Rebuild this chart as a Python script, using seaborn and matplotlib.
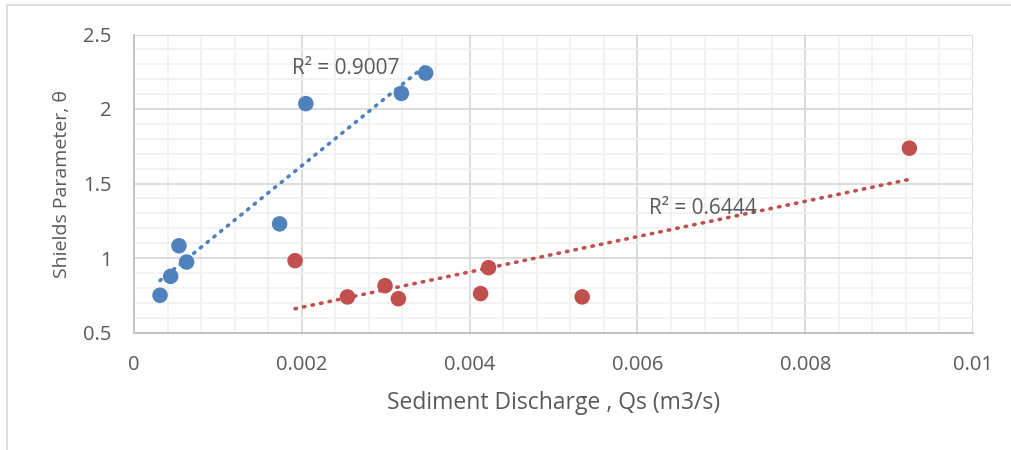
import numpy as np
import pandas as pd
import matplotlib
matplotlib.use("Agg")
import matplotlib.pyplot as plt
from matplotlib.ticker import MultipleLocator, FuncFormatter
import seaborn as sns

# Data
blue_x = [0.000310, 0.000437, 0.000536, 0.000627, 0.001735, 0.002048, 0.003187, 0.003476]
blue_y = [0.750, 0.877, 1.082, 0.973, 1.229, 2.036, 2.105, 2.241]
red_x = [0.001920, 0.002544, 0.002992, 0.003151, 0.004131, 0.004226, 0.005342, 0.009242]
red_y = [0.982, 0.739, 0.814, 0.727, 0.761, 0.935, 0.739, 1.737]
r2_labels = ["R² = 0.9007", "R² = 0.6444"]

blue_c = "#4f81bd"
red_c = "#c0504d"
txt_c = "#595959"

sns.set_style("white")
plt.rcParams["font.family"] = ["Open Sans", "DejaVu Sans"]

df = pd.DataFrame({
    "x": blue_x + red_x,
    "y": blue_y + red_y,
    "series": ["blue"] * len(blue_x) + ["red"] * len(red_x),
})

fig = plt.figure(figsize=(10.12, 4.5), dpi=100)
ax = fig.add_axes([134 / 1012, 1 - 332.5 / 450, (973 - 134) / 1012, (332.5 - 34.5) / 450])

# chart border (left/top visible)
fig.patches.append(plt.Rectangle((7 / 1012, -0.1), 1.2, 1 - 5 / 450 + 0.1,
                                 transform=fig.transFigure, fill=False,
                                 edgecolor="#d9d9d9", lw=1.2, zorder=0))

ax.set_xlim(0, 0.01)
ax.set_ylim(0.5, 2.5)
ax.xaxis.set_major_locator(MultipleLocator(0.002))
ax.xaxis.set_minor_locator(MultipleLocator(0.0004))
ax.yaxis.set_major_locator(MultipleLocator(0.5))
ax.yaxis.set_minor_locator(MultipleLocator(0.1))
ax.grid(which="minor", color="#f0f0f0", lw=1.2, zorder=0)
ax.grid(which="major", color="#d9d9d9", lw=1.3, zorder=0)
ax.set_axisbelow(True)

for s in ["top", "right"]:
    ax.spines[s].set_visible(False)
for s in ["left", "bottom"]:
    ax.spines[s].set_color("#bfbfbf")
    ax.spines[s].set_linewidth(1.3)

ax.tick_params(which="major", direction="out", length=5, width=1.2,
               color="#bfbfbf", labelcolor=txt_c, labelsize=14.5)
ax.tick_params(which="minor", length=0)
ax.tick_params(axis="x", pad=11)
ax.tick_params(axis="y", pad=11)
ax.xaxis.set_major_formatter(FuncFormatter(lambda v, p: f"{v:g}"))
ax.yaxis.set_major_formatter(FuncFormatter(lambda v, p: f"{v:g}"))

# trendlines
for xs, ys, c in [(blue_x, blue_y, blue_c), (red_x, red_y, red_c)]:
    m, b = np.polyfit(xs, ys, 1)
    xx = np.array([min(xs), max(xs)])
    ax.plot(xx, m * xx + b, color=c, lw=2.6, linestyle=(0, (0.4, 2.0)),
            dash_capstyle="round", zorder=2)

sns.scatterplot(data=df, x="x", y="y", hue="series",
                palette={"blue": blue_c, "red": red_c},
                s=125, edgecolor="none", legend=False, ax=ax, zorder=3)

ax.text(0.002524, 2.270, r2_labels[0], color=txt_c, fontsize=15, ha="center", va="center", zorder=4)
ax.text(0.006786, 1.334, r2_labels[1], color=txt_c, fontsize=15, ha="center", va="center", zorder=4)

ax.set_xlabel("Sediment Discharge , Qs (m3/s)", color=txt_c, fontsize=16.5, labelpad=12)
ax.set_ylabel("Shields Parameter, θ", color=txt_c, fontsize=14, labelpad=9)

fig.savefig("out.png", dpi=100)
